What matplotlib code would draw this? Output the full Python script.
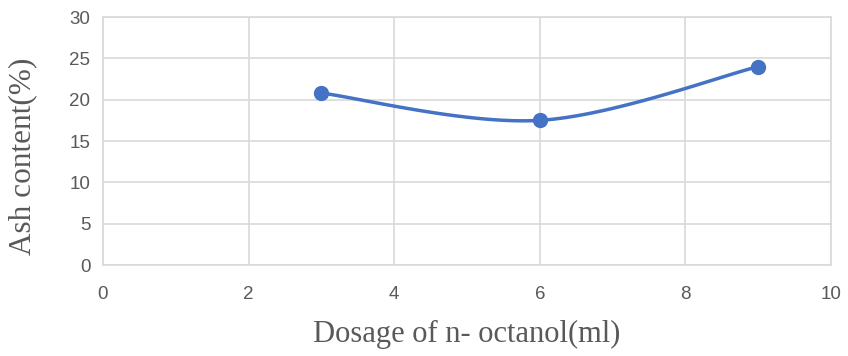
import numpy as np
import matplotlib
matplotlib.use('Agg')
import matplotlib.pyplot as plt

# Daten
dosage = [3, 6, 9]
ash = [20.8, 17.5, 24.0]
x_ticks = [0, 2, 4, 6, 8, 10]
y_ticks = [0, 5, 10, 15, 20, 25, 30]

# Glatte Linie wie in Excel (Catmull-Rom / Bezier)
def smooth(xs, ys, n=60):
    pts = np.column_stack([xs, ys]).astype(float)
    p = np.vstack([pts[0], pts, pts[-1]])
    out = []
    for i in range(1, len(p) - 2):
        p0, p1, p2, p3 = p[i - 1], p[i], p[i + 1], p[i + 2]
        c1 = p1 + (p2 - p0) / 6
        c2 = p2 - (p3 - p1) / 6
        t = np.linspace(0, 1, n)[:, None]
        seg = (1 - t) ** 3 * p1 + 3 * (1 - t) ** 2 * t * c1 + 3 * (1 - t) * t ** 2 * c2 + t ** 3 * p2
        out.append(seg)
    out = np.vstack(out)
    return out[:, 0], out[:, 1]

fig = plt.figure(figsize=(8.48, 3.56), dpi=100)
ax = fig.add_axes([103 / 848, 1 - 265 / 356, (831 - 103) / 848, (265 - 17) / 356])

sx, sy = smooth(dosage, ash)
ax.plot(sx, sy, color='#4472C4', lw=2.5, solid_capstyle='round', zorder=3)
ax.plot(dosage, ash, 'o', color='#4472C4', ms=10, zorder=4)

ax.set_xlim(0, 10)
ax.set_ylim(0, 30)
ax.set_xticks(x_ticks)
ax.set_yticks(y_ticks)
ax.grid(True, color='#d9d9d9', lw=1.2)
ax.set_axisbelow(True)
for s in ax.spines.values():
    s.set_color('#d9d9d9')
    s.set_linewidth(1.2)
ax.tick_params(length=0, labelsize=13.5, labelcolor='#595959')
ax.tick_params(axis='x', pad=15)
ax.tick_params(axis='y', pad=9)
for lab in ax.get_xticklabels() + ax.get_yticklabels():
    lab.set_family('Liberation Sans')

ax.set_xlabel('Dosage of n- octanol(ml)', family='Liberation Serif', fontsize=22, color='#595959', labelpad=12)
ax.set_ylabel('Ash content(%)', family='Liberation Serif', fontsize=22.5, color='#595959')
ax.yaxis.set_label_coords(-0.09, 0.44)

fig.savefig('out.png', dpi=100)
